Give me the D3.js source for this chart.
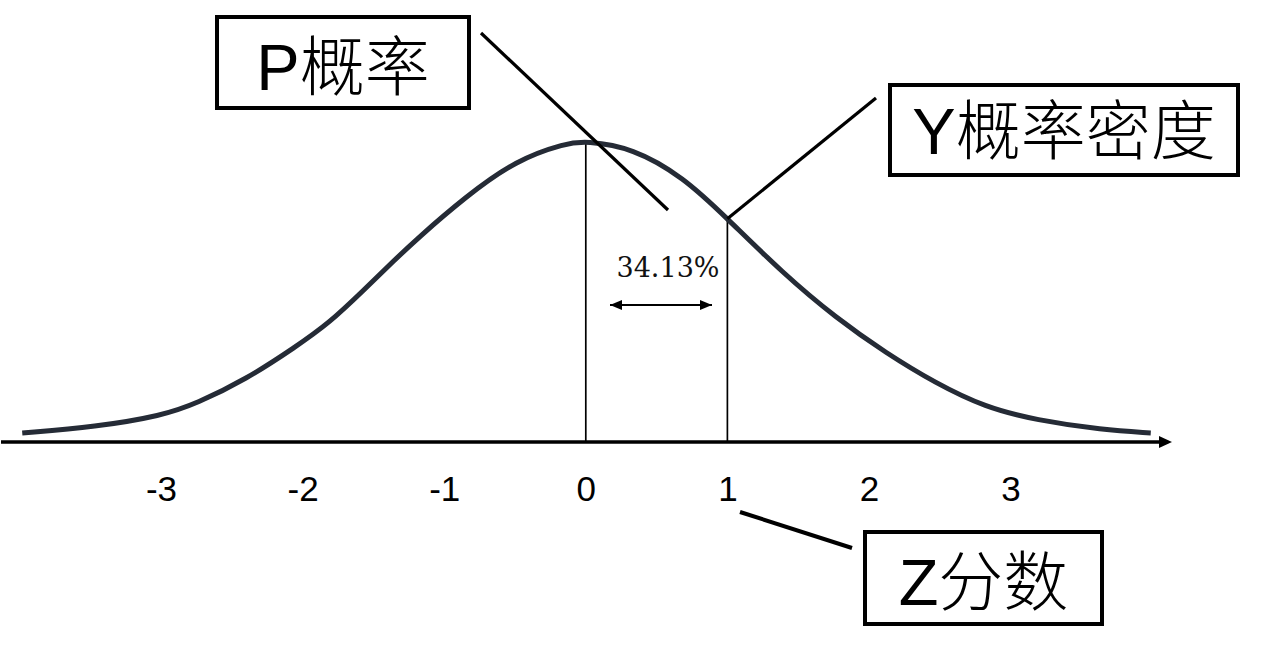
<!DOCTYPE html>
<html>
<head>
<meta charset="utf-8">
<script src="https://cdn.jsdelivr.net/npm/d3@7/dist/d3.min.js"></script>
<style>
  html, body { margin: 0; padding: 0; background: #fff; }
  svg { display: block; }
</style>
</head>
<body>
<svg id="chart" width="1261" height="660"></svg>
<script>
// ---- data ----
const zTicks = [-3, -2, -1, 0, 1, 2, 3];
const tickLabels = ["-3", "-2", "-1", "0", "1", "2", "3"];

// sampled points along the drawn bell curve (z units, density)
const curveZ = [-3.98, -3.46, -2.99, -2.75, -2.40, -2.05, -1.81, -1.57, -1.34, -1.20,
                -0.85, -0.49, -0.14, 0, 0.33, 0.69, 0.99, 1.39, 1.77, 2.12,
                2.47, 2.82, 3.18, 3.65, 3.99];
const curveDensity = [0.012, 0.020, 0.035, 0.051, 0.083, 0.126, 0.158, 0.201, 0.243, 0.268,
                      0.325, 0.374, 0.396, 0.399, 0.390, 0.351, 0.298, 0.224, 0.164, 0.118,
                      0.078, 0.046, 0.029, 0.016, 0.012];

// vertical markers at z = 0 and z = 1
const markerZ = [0, 1];
const markerDensity = [0.399, 0.296];

const areaLabel = "34.13%";
const boxLabels = ["P概率", "Y概率密度", "Z分数"];

// ---- drawing ----
const svg = d3.select("#chart");
const axisY = 442;

const x = d3.scaleLinear().domain([-4.13, 4.14]).range([1, 1172]);
const y = d3.scaleLinear().domain([0, 0.399]).range([axisY, 141]);

// axis line with arrow
const [x0, x1] = x.range();
svg.append("line")
  .attr("x1", x0).attr("x2", x1 - 10)
  .attr("y1", axisY).attr("y2", axisY)
  .attr("stroke", "#000").attr("stroke-width", 3.5);
svg.append("path")
  .attr("d", `M${x1},${axisY} L${x1 - 13},${axisY - 6} L${x1 - 13},${axisY + 6} Z`)
  .attr("fill", "#000");

// tick labels via d3 axis
const axisG = svg.append("g")
  .attr("transform", `translate(0,${axisY})`)
  .call(d3.axisBottom(x).tickValues(zTicks)
    .tickFormat((d, i) => tickLabels[i])
    .tickSize(0).tickPadding(34));
axisG.select(".domain").remove();
axisG.selectAll("text")
  .attr("font-family", "'Liberation Sans', Arial, sans-serif")
  .attr("font-size", 35)
  .attr("fill", "#000");

// vertical markers
svg.selectAll("line.marker")
  .data(markerZ.map((z, i) => ({ z, d: markerDensity[i] })))
  .enter().append("line")
  .attr("class", "marker")
  .attr("x1", d => x(d.z)).attr("x2", d => x(d.z))
  .attr("y1", axisY).attr("y2", d => y(d.d))
  .attr("stroke", "#000").attr("stroke-width", 1.7);

// bell curve
const pts = curveZ.map((z, i) => [z, curveDensity[i]]);
svg.append("path")
  .datum(pts)
  .attr("d", d3.line().x(d => x(d[0])).y(d => y(d[1])).curve(d3.curveBasis))
  .attr("fill", "none")
  .attr("stroke", "#252b36")
  .attr("stroke-width", 5);

// 34.13% label and double arrow
svg.append("text")
  .attr("x", 668).attr("y", 277)
  .attr("text-anchor", "middle")
  .attr("font-family", "'DejaVu Serif', serif")
  .attr("font-size", 27)
  .attr("fill", "#111")
  .text(areaLabel);

const defs = svg.append("defs");
defs.append("marker")
  .attr("id", "ah").attr("markerUnits", "userSpaceOnUse")
  .attr("viewBox", "0 0 12 10").attr("refX", 12).attr("refY", 5)
  .attr("markerWidth", 12).attr("markerHeight", 10)
  .attr("orient", "auto-start-reverse")
  .append("path").attr("d", "M0,0 L12,5 L0,10 Z").attr("fill", "#000");

svg.append("line")
  .attr("x1", 610).attr("x2", 712)
  .attr("y1", 305).attr("y2", 305)
  .attr("stroke", "#000").attr("stroke-width", 2)
  .attr("marker-start", "url(#ah)").attr("marker-end", "url(#ah)");

// leader lines
const leaders = [
  { x1: 481, y1: 33, x2: 668, y2: 210, w: 3.2 },
  { x1: 876, y1: 98, x2: x(markerZ[1]), y2: y(markerDensity[1]), w: 3.2 },
  { x1: 740, y1: 512, x2: 852, y2: 548, w: 4 }
];
svg.selectAll("line.leader").data(leaders).enter().append("line")
  .attr("class", "leader")
  .attr("x1", d => d.x1).attr("y1", d => d.y1)
  .attr("x2", d => d.x2).attr("y2", d => d.y2)
  .attr("stroke", "#000").attr("stroke-width", d => d.w);

// label boxes
const boxes = [
  { x: 217, y: 17, w: 252, h: 91, base: 90 },
  { x: 890, y: 85, w: 348, h: 90, base: 154 },
  { x: 865, y: 532, w: 237, h: 92, base: 605 }
];
const bg = svg.selectAll("g.box").data(boxes).enter().append("g").attr("class", "box");
bg.append("rect")
  .attr("x", d => d.x).attr("y", d => d.y)
  .attr("width", d => d.w).attr("height", d => d.h)
  .attr("fill", "#fff").attr("stroke", "#000").attr("stroke-width", 4);
bg.append("text")
  .attr("x", d => d.x + d.w / 2).attr("y", d => d.base)
  .attr("text-anchor", "middle")
  .attr("font-family", "'Liberation Sans', 'Noto Sans CJK SC', sans-serif")
  .attr("font-size", 65)
  .attr("font-weight", 300)
  .attr("fill", "#000")
  .text((d, i) => boxLabels[i]);
</script>
</body>
</html>
